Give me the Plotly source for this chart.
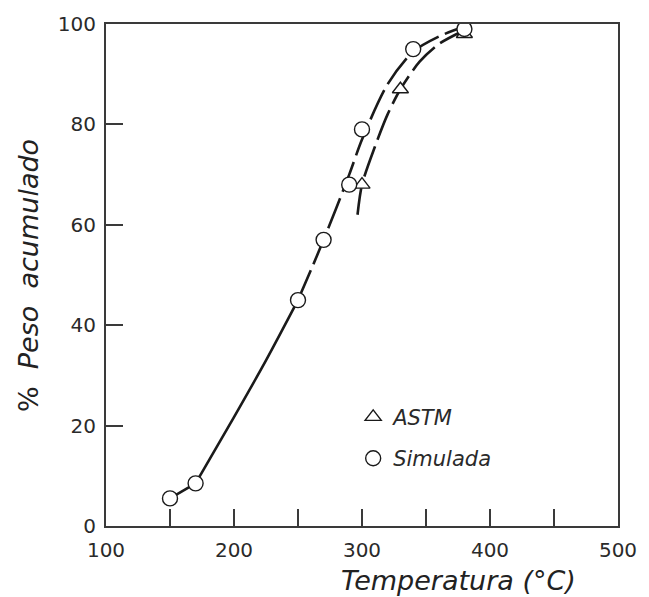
import plotly.graph_objects as go

# Measured points
astm_x = [300, 330, 380]
astm_y = [68, 87, 98]
sim_x = [150, 170, 250, 270, 290, 300, 340, 380]
sim_y = [5.5, 8.5, 45, 57, 68, 79, 95, 99]

# Fitted curves
sim_low_x = [150, 170]
sim_low_y = [5.5, 8.5]
sim_solid_x = [170, 200, 225, 250]
sim_solid_y = [8.5, 21.7, 33, 45]
sim_dash_x = [250, 270, 290, 300, 320, 340, 360, 380]
sim_dash_y = [45, 57, 70, 77, 88, 94.5, 97.5, 99.5]
astm_curve_x = [296.5, 300, 310, 320, 330, 345, 360, 378]
astm_curve_y = [62, 68, 75.5, 82, 87, 92.5, 96, 98.5]

x_ticks = [100, 200, 300, 400, 500]
y_ticks = [0, 20, 40, 60, 80, 100]

INK = "#1a1a1a"
AX = "#3a3a3a"
FONT = "DejaVu Sans"

fig = go.Figure()
fig.add_trace(go.Scatter(x=sim_low_x, y=sim_low_y, mode="lines", line=dict(color=INK, width=2.6),
                         showlegend=False, hoverinfo="skip"))
fig.add_trace(go.Scatter(x=sim_solid_x, y=sim_solid_y, mode="lines",
                         line=dict(color=INK, width=2.6, shape="spline", smoothing=0.8),
                         showlegend=False, hoverinfo="skip"))
fig.add_trace(go.Scatter(x=sim_dash_x, y=sim_dash_y, mode="lines",
                         line=dict(color=INK, width=2.6, shape="spline", smoothing=0.8, dash="32px,7px"),
                         showlegend=False, hoverinfo="skip"))
fig.add_trace(go.Scatter(x=astm_curve_x, y=astm_curve_y, mode="lines",
                         line=dict(color=INK, width=2.6, shape="spline", smoothing=0.8, dash="32px,7px"),
                         showlegend=False, hoverinfo="skip"))
fig.add_trace(go.Scatter(x=astm_x, y=astm_y, mode="markers", name="ASTM", legendgroup="a",
                         marker=dict(symbol="triangle-up", size=14, color="white", line=dict(color=INK, width=1.4))))
fig.add_trace(go.Scatter(x=sim_x, y=sim_y, mode="markers", name="Simulada", legendgroup="b",
                         marker=dict(symbol="circle", size=15, color="white", line=dict(color=INK, width=1.4))))

axis_common = dict(showgrid=False, zeroline=False, showline=True, linecolor=AX, linewidth=2,
                   mirror=True, ticks="inside", ticklen=17, tickwidth=1.6, tickcolor=AX,
                   tickfont=dict(family=FONT, size=20, color="#2a2a2a"))

fig.update_xaxes(range=[100, 500], tickvals=x_ticks, ticklabelstandoff=5,
                 minor=dict(dtick=50, ticks="inside", ticklen=17, tickwidth=1.6, tickcolor=AX),
                 **axis_common)
fig.update_yaxes(range=[0, 100], tickvals=y_ticks, ticklabelstandoff=4, **axis_common)

fig.add_annotation(text="Temperatura (°C)", xref="paper", yref="paper", x=(465 - 106) / 522, y=-(581 - 526) / 505,
                   showarrow=False, font=dict(family=FONT, size=27, color="#222", style="italic"),
                   xanchor="center", yanchor="middle")
fig.add_annotation(text="%&nbsp;&nbsp;<i>Peso&nbsp;&nbsp;acumulado</i>", xref="paper", yref="paper",
                   x=-(106 - 27) / 522, y=(526 - 274) / 505,
                   showarrow=False, textangle=-90, font=dict(family=FONT, size=27, color="#222"),
                   xanchor="center", yanchor="middle")

fig.update_layout(
    width=649, height=597,
    margin=dict(l=106, r=21, t=21, b=71),
    paper_bgcolor="white", plot_bgcolor="white",
    showlegend=True,
    legend=dict(x=(358 - 106) / 522, y=(526 - 396) / 505, xanchor="left", yanchor="top",
                bgcolor="rgba(0,0,0,0)", tracegroupgap=11,
                font=dict(family=FONT, size=21, color="#2a2a2a", style="italic")),
)

fig.write_html("out.html")
